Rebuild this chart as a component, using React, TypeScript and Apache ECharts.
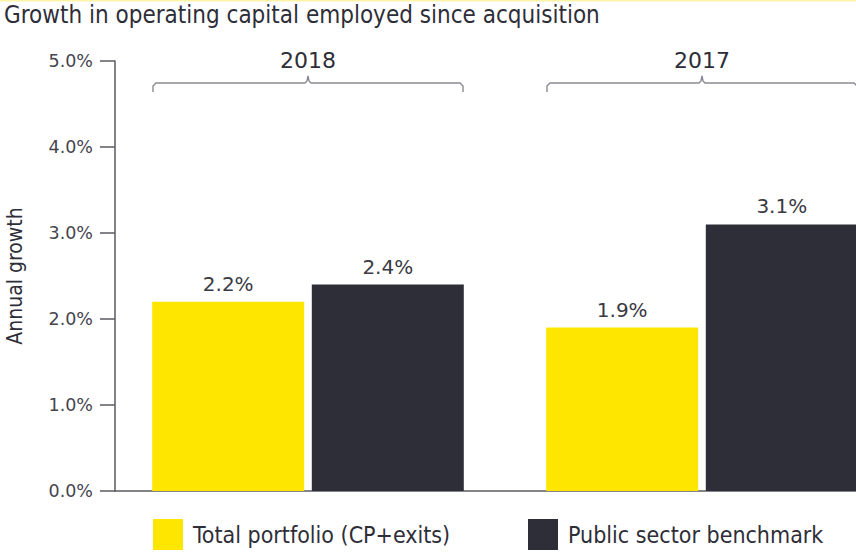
import React, { useEffect, useRef } from "react";
import * as echarts from "echarts";

const categories = ["2018", "2017"];
const seriesNames = ["Total portfolio (CP+exits)", "Public sector benchmark"];
const totalPortfolio = [2.2, 1.9];
const publicBenchmark = [2.4, 3.1];
const yTicks = [0, 1, 2, 3, 4, 5];

const YELLOW = "#FFE600";
const DARK = "#2E2E38";
const AXIS = "#5a5a62";
const COND = "'DejaVu Sans Condensed', 'DejaVu Sans', sans-serif";
const VERD = "'DejaVu Sans', Verdana, sans-serif";

export default function App() {
  const ref = useRef<HTMLDivElement>(null);
  useEffect(() => {
    if (!ref.current) return;
    const chart = echarts.init(ref.current, undefined, { renderer: "svg" });
    const legendBase = {
      top: 519,
      padding: 0,
      itemWidth: 30,
      itemHeight: 31,
      icon: "rect",
      textStyle: { fontFamily: COND, fontSize: 23, color: "#2E2E38", padding: [0, 0, 0, 5] },
    };
    const barLabel = {
      show: true,
      position: "top",
      distance: 8,
      formatter: (p: any) => p.value.toFixed(1) + "%",
      fontFamily: VERD,
      fontSize: 20,
      color: "#3a3a42",
    };
    const yMin = yTicks[0];
    const yMax = yTicks[yTicks.length - 1];
    const option: any = {
      animation: false,
      backgroundColor: "#ffffff",
      title: {
        text: "Growth in operating capital employed since acquisition",
        left: 4,
        top: 3,
        padding: 0,
        textStyle: { fontFamily: COND, fontSize: 24, fontWeight: "normal", color: "#2E2E38" },
      },
      grid: [
        // bar layout grid
        { left: 111, right: -43, top: 61, bottom: 61, containLabel: false, outerBoundsMode: "none" },
        // visible axis frame grid
        { left: 115, right: -43, top: 61, bottom: 61, containLabel: false, outerBoundsMode: "none" },
      ],
      legend: [
        { ...legendBase, data: [seriesNames[0]], left: 153 },
        { ...legendBase, data: [seriesNames[1]], left: 528 },
      ],
      xAxis: [
        {
          type: "category",
          gridIndex: 0,
          data: categories,
          axisLine: { show: false },
          axisTick: { show: false },
          axisLabel: { show: false },
        },
        {
          type: "category",
          gridIndex: 1,
          data: categories,
          axisLine: { show: true, lineStyle: { color: AXIS, width: 1.5 } },
          axisTick: { show: false },
          axisLabel: { show: false },
        },
      ],
      yAxis: [
        {
          type: "value",
          gridIndex: 0,
          min: yMin,
          max: yMax,
          interval: 1,
          show: false,
          splitLine: { show: false },
        },
        {
          type: "value",
          gridIndex: 1,
          min: yMin,
          max: yMax,
          interval: 1,
          name: "Annual growth",
          nameLocation: "middle",
          nameGap: 90,
          nameTextStyle: { fontFamily: COND, fontSize: 21, color: "#2E2E38" },
          axisLine: { show: true, lineStyle: { color: AXIS, width: 1.5 } },
          axisTick: { show: true, inside: false, length: 15, lineStyle: { color: AXIS, width: 1.5 } },
          splitLine: { show: false },
          axisLabel: {
            formatter: (v: number) => v.toFixed(1) + "%",
            fontFamily: VERD,
            fontSize: 17.5,
            color: "#45454d",
            margin: 22,
          },
        },
      ],
      series: [
        {
          name: seriesNames[0],
          type: "bar",
          xAxisIndex: 0,
          yAxisIndex: 0,
          data: totalPortfolio,
          barWidth: 152,
          barGap: "5%",
          itemStyle: { color: YELLOW },
          label: barLabel,
        },
        {
          name: seriesNames[1],
          type: "bar",
          xAxisIndex: 0,
          yAxisIndex: 0,
          data: publicBenchmark,
          barWidth: 152,
          barGap: "5%",
          itemStyle: { color: DARK },
          label: barLabel,
        },
      ],
    };
    chart.setOption(option);

    const graphics: any[] = [
      { type: "rect", shape: { x: 0, y: 0, width: 856, height: 1.5 }, style: { fill: "#FFF3A8" } },
    ];
    const half = 155;
    categories.forEach((c) => {
      const cx = chart.convertToPixel({ xAxisIndex: 0 }, c) as number;
      const x0 = cx - half;
      const x1 = cx + half;
      const yl = 83;
      graphics.push({
        type: "polyline",
        shape: {
          points: [
            [x0, 92],
            [x0, 86],
            [x0 + 3, yl],
            [cx - 3, yl],
            [cx - 1, yl - 2],
            [cx, yl - 7],
            [cx + 1, yl - 2],
            [cx + 3, yl],
            [x1 - 3, yl],
            [x1, 86],
            [x1, 92],
          ],
        },
        style: { stroke: "#8a8a92", lineWidth: 1.4, fill: null },
      });
      graphics.push({
        type: "text",
        x: cx,
        y: 60,
        style: {
          text: c,
          fontFamily: VERD,
          fontSize: 22,
          fill: "#2E2E38",
          textAlign: "center",
          textVerticalAlign: "middle",
        },
      });
    });
    chart.setOption({ graphic: graphics });

    return () => chart.dispose();
  }, []);
  return (
    <div
      ref={ref}
      style={{ position: "fixed", left: 0, top: 0, width: 856, height: 552 }}
    />
  );
}
